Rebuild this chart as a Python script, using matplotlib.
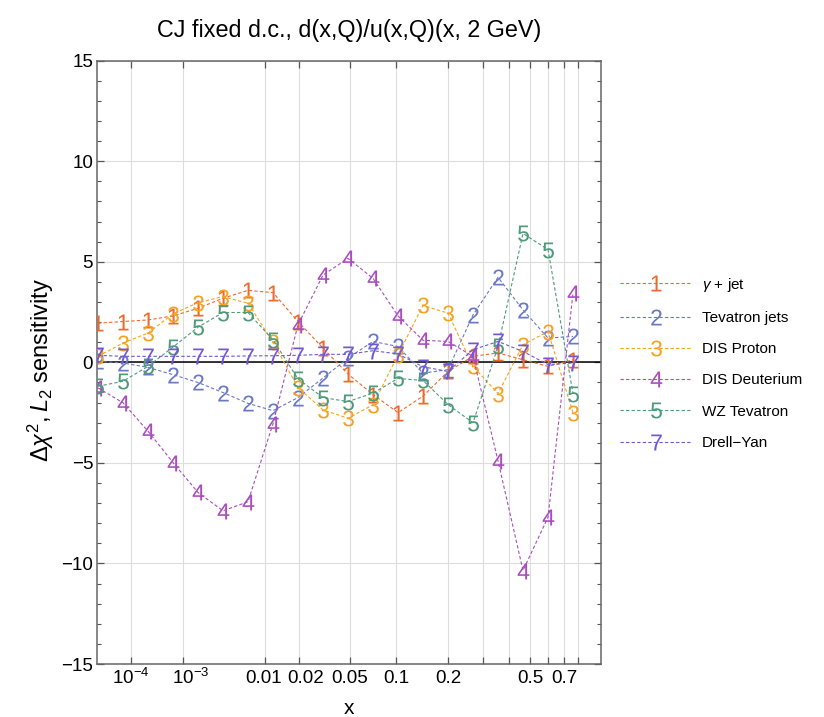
import numpy as np
import matplotlib
matplotlib.use("Agg")
import matplotlib.pyplot as plt
import matplotlib.transforms as mtransforms

plt.rcParams['font.family'] = ['Liberation Sans', 'DejaVu Sans']
plt.rcParams['mathtext.fontset'] = 'custom'
plt.rcParams['mathtext.rm'] = 'Liberation Sans'
plt.rcParams['mathtext.it'] = 'Liberation Sans:italic'
plt.rcParams['mathtext.bf'] = 'Liberation Sans:bold'

# ---- data ----
x_vals = [9.80e-6, 6.235e-5, 2.399e-4, 6.926e-4, 1.6604e-3, 3.494e-3, 6.676e-3,
          0.011843, 0.019803, 0.031564, 0.048348, 0.071614, 0.10308, 0.14475,
          0.19893, 0.26823, 0.35562, 0.46444, 0.59841, 0.76164]

gamma_jet = [1.95, 2.03, 2.11, 2.31, 2.69, 3.19, 3.58, 3.47, 2.03, 0.71,
             -0.58, -1.6, -2.5, -1.68, -0.45, 0.3, 0.47, 0.13, -0.2, 0.13]
tevatron_jets = [0.05, -0.03, -0.25, -0.61, -1.0, -1.5, -2.04, -2.4, -1.75, -0.78,
                 0.21, 1.04, 0.79, -0.54, -0.36, 2.36, 4.23, 2.61, 1.21, 1.29]
dis_proton = [0.30, 0.96, 1.46, 2.41, 2.97, 3.27, 2.94, 1.0, -1.25, -2.36,
              -2.78, -2.11, 0.37, 2.83, 2.45, -0.2, -1.55, 0.88, 1.53, -2.5]
dis_deuterium = [-1.27, -2.01, -3.42, -4.98, -6.47, -7.38, -6.93, -3.05, 1.87, 4.34,
                 5.17, 4.18, 2.31, 1.1, 1.04, 0.3, -4.9, -10.35, -7.7, 3.44]
wz_tevatron = [-1.19, -0.94, -0.20, 0.76, 1.75, 2.48, 2.48, 1.12, -0.82, -1.75,
               -1.95, -1.53, -0.8, -0.9, -2.1, -3.0, 0.79, 6.41, 5.61, -1.55]
drell_yan = [0.35, 0.3, 0.3, 0.3, 0.3, 0.3, 0.32, 0.33, 0.35, 0.4,
             0.4, 0.58, 0.42, -0.22, -0.45, 0.63, 1.04, 0.54, -0.11, -0.03]

series_labels = [r'$\it{\gamma}$ + jet', 'Tevatron jets', 'DIS Proton',
                 'DIS Deuterium', 'WZ Tevatron', 'Drell\u2212Yan']
series_markers = ['1', '2', '3', '4', '5', '7']
series_values = [gamma_jet, tevatron_jets, dis_proton, dis_deuterium, wz_tevatron, drell_yan]
series_colors = ['#EE6A2A', '#6A78C6', '#F5A31E', '#A94DBD', '#4E9A7A', '#7355D6']

x_ticks = [1e-4, 1e-3, 0.01, 0.02, 0.05, 0.1, 0.2, 0.3, 0.4, 0.5, 0.6, 0.7, 0.8]
x_ticklabels = [r'$10^{-4}$', r'$10^{-3}$', '0.01', '0.02', '0.05', '0.1', '0.2',
                '', '', '0.5', '', '0.7', '']
y_ticks = [-15, -10, -5, 0, 5, 10, 15]
y_ticklabels = ['\u221215', '\u221210', '\u22125', '0', '5', '10', '15']

# ---- figure ----
fig = plt.figure(figsize=(8.24, 7.17), dpi=100)
ax = fig.add_axes([0.1181, 0.0739, 0.6109, 0.8414])

def fwd(x):
    x = np.asarray(x, dtype=float)
    return np.sign(x) * np.abs(x) ** 0.2

def inv(u):
    u = np.asarray(u, dtype=float)
    return u ** 5

ax.set_xscale('function', functions=(fwd, inv))
ax.set_xlim(9.23e-6, 0.982)
ax.set_ylim(-15, 15)

ax.set_xticks(x_ticks)
ax.set_xticklabels([''] * len(x_ticks))
ax.set_xticks([], minor=True)
ax.set_yticks(y_ticks)
ax.set_yticklabels(y_ticklabels)
ax.set_yticks(np.arange(-15, 16, 1), minor=True)

# x tick labels, nudged apart where crowded (as in the reference)
label_shift_px = {r'$10^{-3}$': 8, '0.01': -2, '0.02': 7.5}
base_tr = mtransforms.blended_transform_factory(ax.transData, ax.transAxes)
for xt, lab in zip(x_ticks, x_ticklabels):
    if not lab:
        continue
    dx = label_shift_px.get(lab, 0) / 100.0
    tr = base_tr + mtransforms.ScaledTranslation(dx, -14 / 100.0, fig.dpi_scale_trans)
    ax.text(xt, 0, lab, transform=tr, ha='center', va='center', fontsize=13.5,
            clip_on=False)

ax.grid(True, which='major', color='#dddddd', lw=0.8)
ax.set_axisbelow(True)
ax.axhline(0, color='black', lw=1.1, zorder=1.5)

ax.tick_params(which='both', direction='in', top=True, right=True,
               color='#555555')
ax.tick_params(axis='y', labelsize=13.5, pad=3)
ax.tick_params(which='major', length=5, width=0.9)
ax.tick_params(which='minor', length=3, width=0.8)
for sp in ax.spines.values():
    sp.set_color('#666666')
    sp.set_linewidth(1.1)

handles = []
for vals, mk, col, lab in zip(series_values, series_markers, series_colors, series_labels):
    ln, = ax.plot(x_vals, vals, linestyle=(0, (3.0, 2.0)), lw=0.8, color=col,
                  marker='$' + mk + '$', markersize=11.5, markeredgewidth=0.0,
                  label=lab, zorder=3)
    handles.append(ln)

leg = fig.legend(handles=handles, loc='center left', bbox_to_anchor=(0.740, 0.494),
                 frameon=False, fontsize=11, handlelength=4.7, handletextpad=0.65,
                 labelspacing=1.13, numpoints=1, borderpad=0.2)

ax.set_title('CJ fixed d.c., d(x,Q)/u(x,Q)(x, 2 GeV)', fontsize=16.8, pad=17)
fig.text(349 / 824, 1 - 708 / 717, 'x', ha='center', va='center', fontsize=15)
ax.set_ylabel(r'$\Delta\chi^2, L_2$ sensitivity', fontsize=17)
ax.yaxis.set_label_coords(-0.083, 0.487)

fig.savefig('out.png', dpi=100)
